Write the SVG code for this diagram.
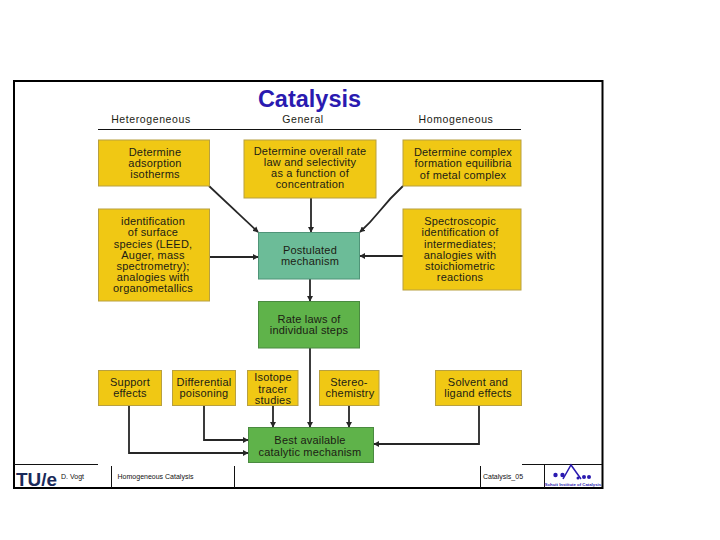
<svg xmlns="http://www.w3.org/2000/svg" width="720" height="540" viewBox="0 0 720 540">
<style>
text{font-family:"Liberation Sans",Arial,sans-serif;fill:#1c1c14;text-anchor:middle}
.b text{font-size:11px;letter-spacing:.2px}
.y{fill:#f0c814;stroke:#b8a040;stroke-width:1}
.g{fill:#5fb34a;stroke:#4a8a40;stroke-width:1}
.t{fill:#6cbc98;stroke:#4f9478;stroke-width:1}
.c{fill:none;stroke:#262626;stroke-width:1.800}
.h{font-size:10.500px;letter-spacing:.6px}
.f{font-size:7px;fill:#111}
.l{stroke:#111;stroke-width:1;fill:none}
</style>
<defs>
<marker id="a" markerWidth="6" markerHeight="6" refX="5" refY="3" orient="auto" markerUnits="userSpaceOnUse"><path d="M0 0L5.500 3L0 6Z" fill="#262626"/></marker>
</defs>
<rect width="720" height="540" fill="#fff"/>
<rect id="frame" x="14" y="81" width="588.500" height="407" fill="none" stroke="#000" stroke-width="2"/>
<text id="title" x="309.500" y="107" font-size="23.500" font-weight="bold" style="fill:#2a1ab0">Catalysis</text>
<g id="headers">
<text class="h" x="151" y="123">Heterogeneous</text>
<text class="h" x="303" y="123">General</text>
<text class="h" x="456" y="123">Homogeneous</text>
<path d="M98 129.500H521" stroke="#111" stroke-width="1.200"/>
</g>
<g id="connectors">
<path class="c" marker-end="url(#a)" d="M209 186L258 232"/>
<path class="c" marker-end="url(#a)" d="M311 198V232"/>
<path class="c" marker-end="url(#a)" d="M403 186Q390 198 378 213Q370 223 360 232"/>
<path class="c" marker-end="url(#a)" d="M209 257H258"/>
<path class="c" marker-end="url(#a)" d="M403 256H360"/>
<path class="c" marker-end="url(#a)" d="M310 279V301"/>
<path class="c" marker-end="url(#a)" d="M310 348V427"/>
<path class="c" marker-end="url(#a)" d="M273 405V427"/>
<path class="c" marker-end="url(#a)" d="M349 405V427"/>
<path class="c" marker-end="url(#a)" d="M129 405V453H248"/>
<path class="c" marker-end="url(#a)" d="M204 405V440H248"/>
<path class="c" marker-end="url(#a)" d="M479 405V444H374"/>
</g>
<g id="n-adsorption" class="b"><rect class="y" x="98.500" y="140" width="111" height="46"/>
<text x="155" y="156">Determine</text><text x="155" y="167">adsorption</text><text x="155" y="178">isotherms</text></g>
<g id="n-overall" class="b"><rect class="y" x="244" y="140" width="132" height="58"/>
<text x="310" y="155">Determine overall rate</text><text x="310" y="166">law and selectivity</text><text x="310" y="177">as a function of</text><text x="310" y="188">concentration</text></g>
<g id="n-complex" class="b"><rect class="y" x="403" y="140" width="118" height="46"/>
<text x="463" y="156">Determine complex</text><text x="463" y="167">formation equilibria</text><text x="463" y="179">of metal complex</text></g>
<g id="n-surface" class="b"><rect class="y" x="98.500" y="209" width="111" height="92"/>
<text x="153" y="225">identification</text><text x="153" y="236">of surface</text><text x="153" y="248">species (LEED,</text><text x="153" y="259">Auger, mass</text><text x="153" y="270">spectrometry);</text><text x="153" y="281">analogies with</text><text x="153" y="292">organometallics</text></g>
<g id="n-spectro" class="b"><rect class="y" x="403" y="209" width="118" height="81"/>
<text x="460" y="225">Spectroscopic</text><text x="460" y="236">identification of</text><text x="460" y="248">intermediates;</text><text x="460" y="259">analogies with</text><text x="460" y="270">stoichiometric</text><text x="460" y="281">reactions</text></g>
<g id="n-postulated" class="b"><rect class="t" x="258.500" y="232.500" width="101" height="46.500"/>
<text x="310" y="254">Postulated</text><text x="310" y="265">mechanism</text></g>
<g id="n-rate" class="b"><rect class="g" x="258.500" y="301.500" width="101" height="46.500"/>
<text x="309" y="323">Rate laws of</text><text x="309" y="334">individual steps</text></g>
<g id="n-support" class="b"><rect class="y" x="98.500" y="370.500" width="63" height="35"/>
<text x="130" y="386">Support</text><text x="130" y="397">effects</text></g>
<g id="n-poison" class="b"><rect class="y" x="172.500" y="370.500" width="63" height="35"/>
<text x="204" y="386">Differential</text><text x="204" y="397">poisoning</text></g>
<g id="n-isotope" class="b"><rect class="y" x="247.500" y="370.500" width="50.500" height="35"/>
<text x="273" y="381">Isotope</text><text x="273" y="392.500">tracer</text><text x="273" y="404">studies</text></g>
<g id="n-stereo" class="b"><rect class="y" x="319.500" y="370.500" width="59.500" height="35"/>
<text x="349" y="386">Stereo-</text><text x="350" y="397">chemistry</text></g>
<g id="n-solvent" class="b"><rect class="y" x="435.500" y="370.500" width="86" height="35"/>
<text x="478" y="386">Solvent and</text><text x="478" y="397">ligand effects</text></g>
<g id="n-best" class="b"><rect class="g" x="248.500" y="427.500" width="125" height="35"/>
<text x="310" y="444">Best available</text><text x="310" y="456">catalytic mechanism</text></g>
<g id="footer">
<path class="l" d="M14 464.500H98M111.500 466V488M234.500 466V488M480.500 466V488M522 464.500H602M544.500 465V488"/>
<text x="36.500" y="486" font-size="19" font-weight="bold" style="fill:#1a2a5a" textLength="41" lengthAdjust="spacingAndGlyphs">TU/e</text>
<text class="f" x="72.500" y="479">D. Vogt</text>
<text class="f" x="155.500" y="479">Homogeneous Catalysis</text>
<text class="f" x="503" y="479">Catalysis_05</text>
<g fill="#2a1ab0"><circle cx="555.500" cy="475" r="2.200"/><circle cx="562.500" cy="475" r="2.200"/><circle cx="584" cy="477" r="2"/><circle cx="589" cy="477" r="2"/><circle cx="578" cy="478" r="1.500"/></g>
<path d="M563 479L571 465L581 479" fill="none" stroke="#2a1ab0" stroke-width="1.500"/>
<text x="573" y="486" font-size="4.300" font-weight="bold" style="fill:#2a1ab0">Schuit Institute of Catalysis</text>
</g>
</svg>
